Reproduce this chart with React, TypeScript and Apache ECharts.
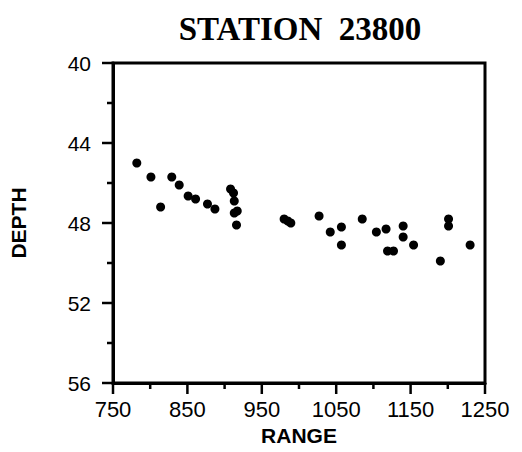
import React, { useEffect, useRef } from "react";
import * as echarts from "echarts";

const titleText = "STATION  23800";
const rangeValues = [782, 801, 814, 829, 839, 851, 861, 877, 887, 908, 912, 913, 913, 917, 916, 980, 985, 989, 1027, 1042, 1057, 1057, 1085, 1104, 1117, 1119, 1127, 1140, 1140, 1154, 1190, 1201, 1201, 1230];
const depthValues = [45.0, 45.7, 47.2, 45.7, 46.1, 46.65, 46.8, 47.05, 47.3, 46.3, 46.5, 46.9, 47.5, 47.4, 48.1, 47.8, 47.9, 48.0, 47.65, 48.45, 48.2, 49.1, 47.8, 48.45, 48.3, 49.4, 49.4, 48.15, 48.7, 49.1, 49.9, 47.8, 48.15, 49.1];
// tick positions: [value, isMajor]
const xTicks = [[750, 1], [800, 0], [850, 1], [900, 0], [950, 1], [1000, 0], [1050, 1], [1100, 0], [1150, 1], [1200, 0], [1250, 1]];
const yTicks = [[40, 1], [42, 0], [44, 1], [46, 0], [48, 1], [50, 0], [52, 1], [54, 0], [56, 1]];
const xMin = 750, xMax = 1250, yMin = 40, yMax = 56;

export default function App() {
  const ref = useRef<HTMLDivElement>(null);
  useEffect(() => {
    document.body.style.margin = "0";
    const chart = echarts.init(ref.current!, null, { renderer: "svg" });
    const data = rangeValues.map((x, i) => [x, depthValues[i]]);
    const sans = "Liberation Sans";
    const MAJOR = 11, MINOR = 6;
    chart.setOption({
      animation: false,
      backgroundColor: "#fff",
      title: {
        text: titleText,
        left: 295,
        top: 7,
        textAlign: "center",
        textStyle: { fontFamily: "Liberation Serif", fontWeight: "bold", fontSize: 33, color: "#000" },
      },
      grid: { left: 112, right: 37, top: 63, bottom: 69, show: true, borderColor: "#000", borderWidth: 3 },
      xAxis: {
        type: "value",
        min: xMin,
        max: xMax,
        interval: 100,
        name: "RANGE",
        nameLocation: "middle",
        nameGap: 41,
        nameTextStyle: { fontFamily: sans, fontWeight: "bold", fontSize: 21, color: "#000" },
        axisLine: { show: true, lineStyle: { color: "#000", width: 3 } },
        axisTick: { show: false },
        axisLabel: { fontFamily: sans, fontSize: 22, color: "#000", margin: 15, formatter: (v: number) => String(v) },
        splitLine: { show: false },
      },
      yAxis: {
        type: "value",
        min: yMin,
        max: yMax,
        interval: 4,
        inverse: true,
        name: "DEPTH",
        nameLocation: "middle",
        nameGap: 84,
        nameRotate: 90,
        nameTextStyle: { fontFamily: sans, fontWeight: "bold", fontSize: 21, color: "#000" },
        axisLine: { show: true, lineStyle: { color: "#000", width: 3 } },
        axisTick: { show: false },
        axisLabel: { fontFamily: sans, fontSize: 21, color: "#000", margin: 22, formatter: (v: number) => String(v) },
        splitLine: { show: false },
      },
      series: [
        {
          type: "custom",
          coordinateSystem: "cartesian2d",
          clip: false,
          silent: true,
          z: 10,
          encode: { x: 0, y: 1 },
          data: xTicks.map(([v, m]) => [v, yMax, m]),
          renderItem: (_p: any, api: any) => {
            const pt = api.coord([api.value(0), api.value(1)]);
            const len = api.value(2) ? MAJOR : MINOR;
            return {
              type: "rect",
              shape: { x: pt[0] - 1.25, y: pt[1], width: 2.5, height: len },
              style: { fill: "#000" },
            };
          },
        },
        {
          type: "custom",
          coordinateSystem: "cartesian2d",
          clip: false,
          silent: true,
          z: 10,
          encode: { x: 0, y: 1 },
          data: yTicks.map(([v, m]) => [xMin, v, m]),
          renderItem: (_p: any, api: any) => {
            const pt = api.coord([api.value(0), api.value(1)]);
            const len = api.value(2) ? MAJOR : MINOR;
            return {
              type: "rect",
              shape: { x: pt[0] - len, y: pt[1] - 1.25, width: len, height: 2.5 },
              style: { fill: "#000" },
            };
          },
        },
        {
          type: "scatter",
          data,
          symbol: "circle",
          symbolSize: 9,
          itemStyle: { color: "#000", opacity: 1 },
        },
      ],
    });
    return () => chart.dispose();
  }, []);
  return <div ref={ref} style={{ width: 522, height: 452 }} />;
}
